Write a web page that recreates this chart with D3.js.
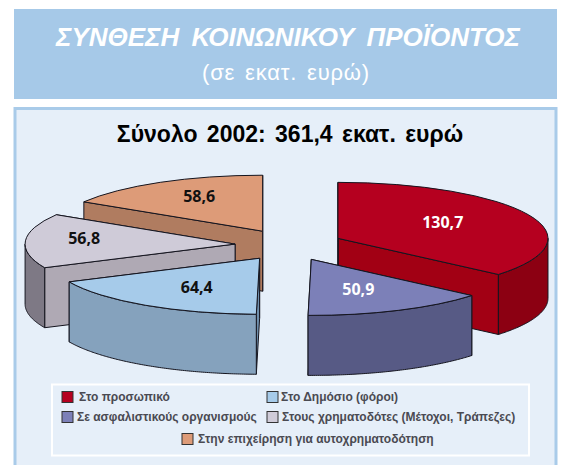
<!DOCTYPE html>
<html lang="el">
<head>
  <meta charset="UTF-8">
  <title>Σύνθεση κοινωνικού προϊόντος</title>
  <script src="https://d3js.org/d3.v7.min.js"></script>
  <style>
    html, body { margin: 0; padding: 0; background: #fff; }
    svg { display: block; }
    text { font-family: "Liberation Sans", sans-serif; }
    .heading { fill: #fff; text-anchor: middle; }
    .value { font-family: "Noto Sans", sans-serif; font-size: 16px; font-weight: 700; text-anchor: middle; }
    .legend-label { font-size: 12px; font-weight: 700; fill: #4a4a52; }
    .edge { stroke: #15151f; stroke-width: 1; stroke-linejoin: round; vector-effect: non-scaling-stroke; }
  </style>
</head>
<body>
  <svg width="561" height="465"></svg>

  <script>
    const mainTitle = "ΣΥΝΘΕΣΗ ΚΟΙΝΩΝΙΚΟΥ ΠΡΟΪΟΝΤΟΣ";
    const subTitle = "(σε εκατ. ευρώ)";
    const totalTitle = "Σύνολο 2002: 361,4 εκατ. ευρώ";

    const categories = ["Στο προσωπικό", "Σε ασφαλιστικούς οργανισμούς", "Στο Δημόσιο (φόροι)",
      "Στους χρηματοδότες (Μέτοχοι, Τράπεζες)", "Στην επιχείρηση για αυτοχρηματοδότηση"];
    const values = [130.7, 50.9, 64.4, 56.8, 58.6];
    const valueLabels = ["130,7", "50,9", "64,4", "56,8", "58,6"];

    const topColors = ["#b5001f", "#7c80b8", "#a6cbea", "#cfcbd8", "#dd9b78"];
    const cutColors = ["#a20014", "#575a85", "#6f8eab", "#afa9b4", "#b07c60"];
    const rimColors = ["#8c0012", "#575a85", "#85a2bd", "#7e7985", "#b07c60"];
    const labelColors = ["#fff", "#fff", "#111", "#111", "#111"];

    // label position as a share of the radius, per slice
    const labelRadiusX = [0.55, 0.54, 0.55, 0.72, 0.62];
    const labelRadiusY = [0.68, 0.59, 0.62, 1.8, 0.71];

    // legend placement: swatch x, text x, row
    const legendSwatchX = [62, 62, 267, 267, 182];
    const legendTextX = [79, 77, 281, 282, 198];
    const legendRow = [0, 1, 0, 1, 2];

    const svg = d3.select("svg");

    const rx = 210, ry = 56, depth = 60;
    const cx = 289, cy = 245, explodeX = 54, explodeY = 15.8;

    // background panels
    svg.append("rect").attr("x", 14).attr("y", 9).attr("width", 543).attr("height", 90).attr("fill", "#a6c9e8");
    svg.append("rect").attr("x", 15).attr("y", 108.5).attr("width", 541).attr("height", 360)
      .attr("fill", "#e6eff9").attr("stroke", "#a9cbe9").attr("stroke-width", 3);

    svg.append("text").attr("class", "heading").attr("x", 288).attr("y", 46)
      .style("font-size", "26px").style("font-style", "italic").style("font-weight", "700").style("word-spacing", "5px")
      .text(mainTitle);
    svg.append("text").attr("class", "heading").attr("x", 286).attr("y", 80)
      .style("font-size", "22px").style("letter-spacing", "0.8px").style("word-spacing", "3px")
      .text(subTitle);
    svg.append("text").attr("x", 290).attr("y", 142).attr("text-anchor", "middle")
      .style("font-size", "23px").style("font-weight", "700").style("word-spacing", "3px").attr("fill", "#000")
      .text(totalTitle);

    const pie = d3.pie().sort(null).startAngle(0).endAngle(2 * Math.PI);
    const slices = pie(values).map((d, i) => {
      const mid = (d.startAngle + d.endAngle) / 2;
      return {
        ...d, i, mid,
        x: cx + explodeX * Math.sin(mid),
        y: cy - explodeY * Math.cos(mid)
      };
    });

    const rimPoint = (s, a) => [s.x + rx * Math.sin(a), s.y - ry * Math.cos(a)];
    const line = d3.line();
    const topArc = d3.arc().innerRadius(0).outerRadius(rx);

    function wall(s, a) {
      const p = rimPoint(s, a);
      return line([[s.x, s.y], p, [p[0], p[1] + depth], [s.x, s.y + depth]]) + "Z";
    }

    function rimWall(s) {
      const a0 = Math.max(s.startAngle, Math.PI / 2), a1 = Math.min(s.endAngle, 3 * Math.PI / 2);
      if (a1 <= a0) return null;
      const angles = d3.range(a0, a1, 0.01).concat([a1]);
      const upper = angles.map(a => rimPoint(s, a));
      const lower = upper.map(p => [p[0], p[1] + depth]).reverse();
      return line(upper.concat(lower)) + "Z";
    }

    // back to front, so nearer slices cover farther ones
    const drawOrder = [4, 3, 0, 1, 2];
    const groups = svg.append("g").selectAll("g")
      .data(drawOrder.map(i => slices[i]))
      .join("g");

    groups.append("path").attr("class", "edge").attr("d", s => wall(s, s.endAngle)).attr("fill", s => cutColors[s.i]);
    groups.append("path").attr("class", "edge").attr("d", s => wall(s, s.startAngle)).attr("fill", s => cutColors[s.i]);
    groups.filter(s => rimWall(s)).append("path").attr("class", "edge")
      .attr("d", rimWall).attr("fill", s => rimColors[s.i]);
    groups.append("path").attr("class", "edge")
      .attr("transform", s => `translate(${s.x},${s.y}) scale(1,${ry / rx})`)
      .attr("d", s => topArc(s))
      .attr("fill", s => topColors[s.i]);

    groups.append("text").attr("class", "value")
      .attr("x", s => s.x + rx * labelRadiusX[s.i] * Math.sin(s.mid))
      .attr("y", s => s.y - ry * labelRadiusY[s.i] * Math.cos(s.mid) + 6)
      .attr("fill", s => labelColors[s.i])
      .text(s => valueLabels[s.i]);

    // legend
    svg.append("rect").attr("x", 52).attr("y", 384.5).attr("width", 477).attr("height", 71)
      .attr("fill", "none").attr("stroke", "#fff").attr("stroke-width", 2);

    const rowY = d3.scaleOrdinal().domain([0, 1, 2]).range([401, 421, 443]);
    const legend = svg.append("g").selectAll("g").data(categories).join("g");
    legend.append("rect")
      .attr("x", (d, i) => legendSwatchX[i])
      .attr("y", (d, i) => rowY(legendRow[i]) - 9.5)
      .attr("width", 11).attr("height", 11)
      .attr("fill", (d, i) => topColors[i])
      .attr("stroke", "#333").attr("stroke-width", 1);
    legend.append("text").attr("class", "legend-label")
      .attr("x", (d, i) => legendTextX[i])
      .attr("y", (d, i) => rowY(legendRow[i]))
      .text(d => d);
  </script>
</body>
</html>
